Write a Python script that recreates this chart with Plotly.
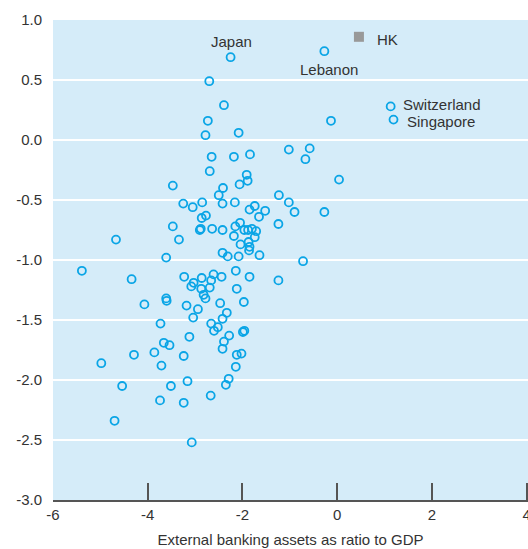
import plotly.graph_objects as go

# External banking assets (ratio to GDP) vs. the y-measure, one point per economy
bank_assets = [
    -2.70, -2.39, -2.73, -2.78, -2.08, -0.13, -2.65, -2.18, -1.84, -1.02,
    -0.58, -0.67, -2.69, -1.91, -1.89, -2.06, -2.41, -2.50, 0.04, -1.23,
    -3.47, -1.02, -0.90, -0.27, -3.25, -3.05, -2.85, -2.42, -2.16, -1.85,
    -1.74, -1.52, -1.65, -2.77, -2.86, -3.47, -3.34, -3.61, -2.90, -2.88,
    -2.64, -2.42, -2.15, -2.05, -2.18, -1.96, -1.88, -1.80, -1.71, -1.74,
    -1.24, -2.04, -1.87, -1.85, -1.86, -2.42, -2.31, -2.08, -1.64, -0.72,
    -4.67, -5.39, -4.34, -3.23, -3.03, -3.08, -2.86, -2.61, -2.66, -2.44,
    -2.14, -1.85, -1.24, -2.87, -2.69, -2.12, -2.82, -2.78, -3.61, -3.60,
    -4.07, -3.18, -2.94, -2.47, -1.97, -2.33, -2.42, -3.04, -3.73, -2.66,
    -2.52, -2.60, -1.99, -1.96, -2.28, -3.12, -2.39, -3.66, -3.54, -2.42,
    -3.86, -4.29, -3.24, -2.12, -2.02, -4.98, -3.71, -2.14, -3.16, -2.29,
    -2.35, -4.54, -3.51, -2.67, -3.74, -3.24, -4.70, -3.07,
]
y_values = [
    0.49, 0.29, 0.16, 0.04, 0.06, 0.16, -0.14, -0.14, -0.12, -0.08,
    -0.07, -0.16, -0.26, -0.29, -0.34, -0.37, -0.40, -0.46, -0.33, -0.46,
    -0.38, -0.52, -0.60, -0.60, -0.53, -0.56, -0.52, -0.53, -0.52, -0.58,
    -0.55, -0.59, -0.64, -0.63, -0.65, -0.72, -0.83, -0.98, -0.75, -0.74,
    -0.74, -0.75, -0.72, -0.69, -0.80, -0.75, -0.75, -0.74, -0.76, -0.81,
    -0.70, -0.87, -0.85, -0.89, -0.92, -0.94, -0.97, -0.97, -0.96, -1.01,
    -0.83, -1.09, -1.16, -1.14, -1.19, -1.22, -1.15, -1.12, -1.17, -1.14,
    -1.09, -1.14, -1.17, -1.24, -1.23, -1.24, -1.29, -1.32, -1.32, -1.34,
    -1.37, -1.38, -1.41, -1.36, -1.35, -1.44, -1.49, -1.48, -1.53, -1.53,
    -1.56, -1.59, -1.60, -1.59, -1.63, -1.64, -1.68, -1.69, -1.71, -1.74,
    -1.77, -1.79, -1.80, -1.79, -1.78, -1.86, -1.88, -1.89, -2.01, -1.99,
    -2.04, -2.05, -2.05, -2.13, -2.17, -2.19, -2.34, -2.52,
]

# Labelled economies
named = ["Japan", "Lebanon", "Switzerland", "Singapore"]
named_x = [-2.25, -0.27, 1.13, 1.19]
named_y = [0.69, 0.74, 0.28, 0.17]

# Hong Kong, shown with a separate marker
hk_label = "HK"
hk_x = [0.46]
hk_y = [0.86]

x_ticks = [-6, -4, -2, 0, 2, 4]
y_ticks = [1.0, 0.5, 0.0, -0.5, -1.0, -1.5, -2.0, -2.5, -3.0]

BLUE = "#0aa5e6"
TEXT = "#333333"
FONT = "Liberation Sans, Arial, sans-serif"

ring = dict(symbol="circle-open", size=8, color=BLUE, line=dict(width=1.8, color=BLUE))

fig = go.Figure()
fig.add_trace(go.Scatter(x=bank_assets, y=y_values, mode="markers", marker=ring,
                         hoverinfo="x+y", showlegend=False))
fig.add_trace(go.Scatter(x=named_x, y=named_y, mode="markers", marker=ring,
                         text=named, hoverinfo="text+x+y", showlegend=False))
fig.add_trace(go.Scatter(x=hk_x, y=hk_y, mode="markers",
                         marker=dict(symbol="square", size=10, color="#999999"),
                         text=[hk_label], hoverinfo="text+x+y", showlegend=False))

# Country labels placed beside their markers
label_style = {
    "Japan": dict(xanchor="center", yanchor="middle", xshift=1, yshift=16),
    "Lebanon": dict(xanchor="center", yanchor="middle", xshift=5, yshift=-18),
    "Switzerland": dict(xanchor="left", yanchor="middle", xshift=10, yshift=2),
    "Singapore": dict(xanchor="left", yanchor="middle", xshift=11, yshift=-2),
}
for name, nx, ny in zip(named, named_x, named_y):
    fig.add_annotation(x=nx, y=ny, text=name, showarrow=False,
                       font=dict(size=15, color=TEXT, family=FONT), **label_style[name])
fig.add_annotation(x=hk_x[0], y=hk_y[0], text=hk_label, showarrow=False,
                   xanchor="left", yanchor="middle", xshift=16, yshift=-3,
                   font=dict(size=15, color=TEXT, family=FONT))

fig.update_layout(
    width=528, height=549,
    margin=dict(l=53, r=0, t=20, b=49),
    paper_bgcolor="white",
    plot_bgcolor="#d5ecf9",
    font=dict(family=FONT, size=15, color=TEXT),
    showlegend=False,
)
fig.update_xaxes(
    range=[-6, 4.03], tickvals=x_ticks, ticktext=[str(v) for v in x_ticks],
    showgrid=False, zeroline=False, automargin=False,
    showline=True, linecolor="#555555", linewidth=1.5,
    ticks="inside", ticklen=17, tickwidth=1.5, tickcolor="#555555",
    ticklabeloverflow="allow",
    tickfont=dict(size=15, color=TEXT),
    title=dict(text="External banking assets as ratio to GDP",
               font=dict(size=15, color=TEXT), standoff=13),
)
fig.update_yaxes(
    range=[-3, 1], tickvals=y_ticks, ticktext=[f"{v:.1f}" for v in y_ticks],
    showgrid=True, gridcolor="white", gridwidth=2,
    zeroline=True, zerolinecolor="white", zerolinewidth=2,
    showline=False, ticks="", ticklabelstandoff=10, automargin=False,
    tickfont=dict(size=15, color=TEXT),
)

fig.write_html("out.html")
